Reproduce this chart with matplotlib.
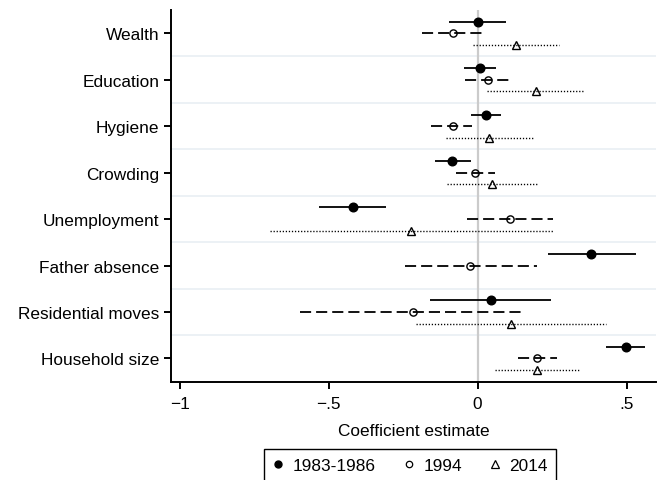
import matplotlib
matplotlib.use("Agg")
import matplotlib.pyplot as plt
from matplotlib.lines import Line2D
import numpy as np

plt.rcParams['font.family'] = ['Liberation Sans', 'DejaVu Sans']
plt.rcParams['lines.scale_dashes'] = False

categories = ["Wealth", "Education", "Hygiene", "Crowding", "Unemployment",
              "Father absence", "Residential moves", "Household size"]

# 1983-1986
est_83 = [0.000, 0.008, 0.027, -0.085, -0.419, 0.381, 0.044, 0.498]
lo_83 = [-0.096, -0.046, -0.022, -0.143, -0.533, 0.237, -0.160, 0.431]
hi_83 = [0.095, 0.061, 0.077, -0.022, -0.308, 0.531, 0.246, 0.561]

# 1994
est_94 = [-0.084, 0.035, -0.084, -0.009, 0.108, -0.024, -0.218, 0.200]
lo_94 = [-0.187, -0.043, -0.157, -0.073, -0.034, -0.244, -0.596, 0.136]
hi_94 = [0.022, 0.114, -0.020, 0.058, 0.252, 0.198, 0.151, 0.265]

# 2014 (no father absence estimate)
est_14 = [0.130, 0.195, 0.037, 0.050, -0.224, np.nan, 0.112, 0.198]
lo_14 = [-0.016, 0.032, -0.107, -0.101, -0.697, np.nan, -0.207, 0.058]
hi_14 = [0.274, 0.358, 0.187, 0.198, 0.252, np.nan, 0.431, 0.340]

xticks = [-1, -0.5, 0, 0.5]
xticklabels = ["\u22121", "\u2212.5", "0", ".5"]
series_labels = ["1983-1986", "1994", "2014"]

fig = plt.figure(figsize=(6.63, 4.81), dpi=100)
ax = fig.add_axes([0.258, 0.2044, 0.731, 0.7727])

pos = np.arange(len(categories))
fs = 12.4

# vertical reference line at zero
ax.axvline(0, color='#cbcbcb', lw=1.6, zorder=0.5)

# light separators between categories
for b in pos[:-1] + 0.5:
    ax.axhline(b, color='#e9eff3', lw=1.2, zorder=0.3)

series = [
    (est_83, lo_83, hi_83, -0.25, 'solid', 1.3, dict(marker='o', ms=6.2, mfc='black', mec='black')),
    (est_94, lo_94, hi_94, 0.0, (0, (8, 3.6)), 1.3, dict(marker='o', ms=5.2, mfc='none', mec='black', mew=1.0)),
    (est_14, lo_14, hi_14, 0.25, (0, (0.9, 1.3)), 1.0, dict(marker='^', ms=6.3, mfc='none', mec='black', mew=1.0)),
]

for est, lo, hi, off, ls, lw, mk in series:
    y = pos + off
    ax.hlines(y, lo, hi, colors='black', linestyles=[ls], lw=lw, zorder=2)
    ax.plot(est, y, linestyle='none', zorder=3, **mk)

ax.set_ylim(len(categories) - 0.5, -0.5)
ax.set_xlim(-1.029, 0.598)
ax.set_yticks(pos)
ax.set_yticklabels(categories, fontsize=fs)
ax.set_xticks(xticks)
ax.set_xticklabels(xticklabels, fontsize=fs)
ax.set_xlabel("Coefficient estimate", fontsize=fs, labelpad=9)

for s in ['top', 'right']:
    ax.spines[s].set_visible(False)
for s in ['left', 'bottom']:
    ax.spines[s].set_linewidth(1.4)
ax.tick_params(axis='both', width=1.4, length=5, pad=3.5, color='black')
ax.tick_params(axis='x', pad=5)

handles = [
    Line2D([], [], linestyle='none', marker='o', ms=5, mfc='black', mec='black'),
    Line2D([], [], linestyle='none', marker='o', ms=4.6, mfc='none', mec='black', mew=0.9),
    Line2D([], [], linestyle='none', marker='^', ms=5.2, mfc='none', mec='black', mew=0.9),
]
leg = fig.legend(handles, series_labels, loc='upper center', bbox_to_anchor=(0.619, 0.0644),
                 ncol=3, fontsize=fs, frameon=True, fancybox=False, framealpha=1,
                 edgecolor='black', handlelength=0.6, handletextpad=0.55,
                 columnspacing=1.6, borderpad=0.5, borderaxespad=0)
leg.get_frame().set_linewidth(1.0)

fig.savefig("out.png", dpi=100)
